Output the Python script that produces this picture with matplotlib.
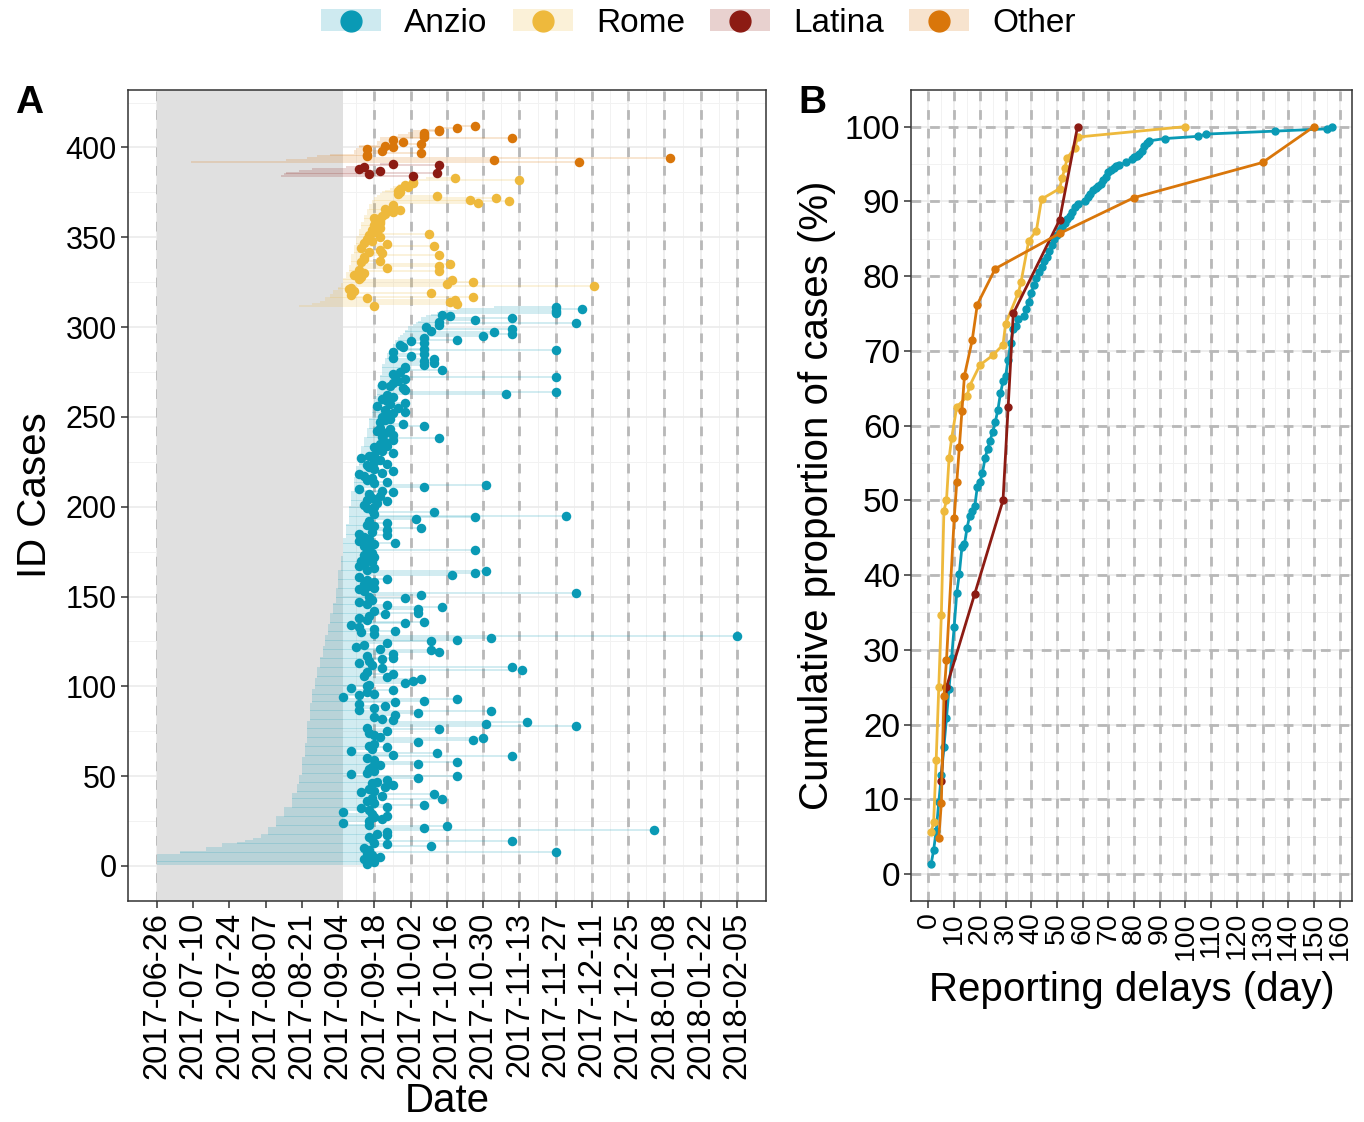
import numpy as np
import matplotlib
matplotlib.use("Agg")
import matplotlib.pyplot as plt
import matplotlib.dates as mdates
from matplotlib.patches import Patch
from matplotlib.lines import Line2D
from matplotlib.legend_handler import HandlerTuple

plt.rcParams['font.family'] = ['Liberation Sans', 'DejaVu Sans']

START = np.datetime64('2017-06-26')
END = np.datetime64('2018-02-05')
SHADE_END_DAY = 72  # grey period, days after START

regions = ['Anzio', 'Rome', 'Latina', 'Other']
colors = ['#0A9AB5', '#EEB93C', '#8C1B13', '#D9760A']

# ---------------- panel A data (days after 2017-06-26) ----------------
# onset curve: onset day and number of cases with that onset
anzio_onset_day = [0, 9, 19, 25, 31, 34, 37, 40, 43, 46, 49, 52, 54, 55, 56, 57, 58, 59,
                   60, 61, 62, 63, 64, 65, 66, 67, 68, 69, 70, 71, 72, 73, 74, 75, 76, 77,
                   78, 79, 80, 81, 82, 83, 84, 85, 86, 87, 88, 89, 90, 91, 92, 93, 94, 95,
                   96, 97, 99, 100, 101, 102, 104, 106, 108, 111, 116, 130]
anzio_onset_n = [6, 2, 2, 2, 1, 1, 1, 2, 4, 6, 5, 8, 5, 5, 10, 8, 12, 10,
                 8, 6, 6, 6, 6, 6, 6, 6, 6, 8, 10, 8, 10, 8, 10, 8, 8, 6,
                 6, 5, 5, 5, 6, 6, 6, 6, 6, 6, 3, 3, 3, 2, 2, 2, 1, 1,
                 2, 2, 1, 1, 1, 2, 1, 1, 1, 1, 1, 1]
anzio_notif_day = [
    81, 84, 82, 80, 86, 83, 81, 154, 82, 80,
    106, 89, 84, 137, 83, 82, 89, 85, 89, 192,
    103, 112, 82, 72, 82, 87, 84, 89, 83, 72,
    82, 79, 89, 103, 84, 81, 110, 83, 87, 107,
    79, 84, 82, 88, 91, 83, 85, 89, 101, 116,
    75, 81, 84, 82, 83, 86, 101, 116, 84, 81,
    137, 91, 108, 75, 83, 89, 82, 84, 101, 122,
    126, 86, 84, 82, 89, 109, 81, 162, 127, 143,
    91, 87, 84, 92, 101, 129, 78, 84, 88, 78,
    92, 103, 116, 72, 78, 84, 81, 91, 75, 81,
    82, 96, 99, 102, 89, 80, 91, 81, 141, 87,
    137, 83, 78, 82, 87, 91, 81, 91, 109, 106,
    86, 77, 80, 89, 106, 116, 129, 224, 84, 79,
    92, 84, 78, 75, 96, 103, 81, 78, 82, 88,
    101,
    84, 101, 110, 89, 81, 78, 83, 96, 82, 102,
    162, 80, 78, 84, 82, 80, 84, 81, 89, 78,
    114, 123, 127, 81, 84, 78, 80, 83, 79, 82,
    84, 80, 83, 81, 123, 82, 80, 84, 92, 78,
    82, 80, 89, 78, 83, 89, 102, 84, 81, 89,
    82, 100, 123, 158, 84, 107, 83, 81, 84, 80,
    85, 89, 81, 83, 86, 82, 91, 87, 78,
    103, 127, 84, 89, 81, 83, 80, 78, 87, 91,
    84, 82, 81, 89, 84, 86, 79, 82, 84, 91,
    87, 85, 84, 89, 86, 88, 91, 109, 87, 91,
    88, 85, 90, 86, 103, 95, 86, 88, 90, 87,
    89, 91, 96, 88, 93, 85, 90, 96, 89, 87,
    91, 89, 135, 154, 96, 95, 90, 87, 91, 93,
    96, 154, 92, 91, 94, 110, 96, 96, 103, 107,
    103, 107, 91, 98, 103, 91, 154, 103, 95, 94,
    103, 98, 116, 103, 126, 137, 130, 106, 137, 104,
    109, 162, 109, 123, 137, 113, 110, 154, 154, 164, 154]

rome_onset_day = [55, 60, 63, 65, 67, 68, 70, 71, 72, 73, 74, 75, 76, 77, 78, 79, 80,
                  81, 82, 83, 84, 85, 86, 87, 88, 90, 91, 93, 95, 97, 100, 104]
rome_onset_n = [1, 1, 1, 2, 2, 2, 2, 2, 3, 3, 4, 6, 5, 5, 4, 4, 4,
                3, 3, 2, 2, 1, 1, 1, 1, 1, 1, 1, 1, 1, 1, 1]
rome_notif_day = [
    84, 116, 113, 115, 81, 122, 75, 106, 76, 74,
    75, 169, 112, 122, 114, 78, 79, 76, 80, 109,
    78, 89, 109, 113, 79, 86, 80, 80, 109, 87,
    82, 86, 79, 107, 89, 80, 83, 81, 86, 82,
    105, 84, 83, 86, 85, 84, 86, 86, 85, 84,
    87, 88, 91, 94, 88, 91, 91, 124, 136, 121,
    131, 108, 93, 94, 93, 94, 97, 96, 99, 99,
    140, 115]

latina_onset_day = [48, 49, 50, 55, 60, 73, 80, 86]
latina_notif_day = [99, 82, 108, 86, 78, 80, 109, 91]

other_onset_day = [13, 50, 58, 62, 67, 76, 76, 77, 78, 78, 85, 85, 86, 86, 91, 93,
                   97, 99, 103, 109, 117]
other_notif_day = [163, 130, 198, 81, 81, 102, 87, 81, 91, 88, 102, 95, 91, 137, 103,
                   103, 103, 109, 109, 116, 123]

# ---------------- panel B data: delay (days) vs cumulative % ----------------
anzio_delay = [1, 2, 3, 4, 5, 6, 7, 8, 9, 10, 11, 12, 13, 14, 15, 16, 17, 18, 19, 20,
               21, 22, 23, 24, 25, 26, 27, 28, 29, 30, 31, 32, 33, 34, 35, 37, 38, 39,
               40, 41, 42, 43, 44, 45, 46, 47, 48, 49, 50, 51, 52, 53, 54, 55, 56, 57,
               58, 61, 62, 63, 64, 65, 66, 67, 68, 69, 70, 71, 72, 73, 74, 77, 79, 80,
               81, 82, 83, 84, 85, 86, 92, 105, 108, 135, 155, 157]
anzio_cum = [1.3, 3.2, 5.8, 9.6, 13.2, 17.0, 20.9, 24.8, 28.9, 33.1, 37.6, 40.2, 43.7,
             44.1, 46.3, 47.9, 48.6, 49.2, 51.8, 52.4, 53.7, 55.6, 56.9, 58.0, 59.2,
             60.5, 62.1, 64.3, 65.9, 66.6, 68.8, 71.1, 72.9, 73.3, 74.3, 74.6, 75.6,
             76.5, 77.8, 78.8, 79.7, 80.5, 81.2, 82.0, 82.6, 83.3, 84.1, 84.9, 85.5,
             86.2, 86.6, 87.1, 87.6, 88.1, 88.6, 89.2, 89.6, 90.0, 90.6, 91.0, 91.5,
             91.8, 92.1, 92.3, 92.8, 93.2, 93.9, 94.2, 94.5, 94.7, 94.8, 95.2, 95.6,
             95.9, 96.1, 96.4, 96.7, 97.4, 97.8, 98.1, 98.4, 98.7, 99.0, 99.4, 99.7, 100]
rome_delay = [1, 2, 3, 4, 5, 6, 7, 8, 9, 11, 15, 16, 20, 25, 29, 30, 35, 36, 39, 42,
              44, 51, 52, 53, 54, 57, 58, 100]
rome_cum = [5.6, 6.9, 15.3, 25.0, 34.7, 48.6, 50.0, 55.6, 58.3, 62.5, 63.9, 65.3, 68.1,
            69.4, 70.8, 73.6, 77.8, 79.2, 84.7, 86.1, 90.3, 91.7, 93.1, 94.4, 95.8,
            97.2, 98.6, 100]
latina_delay = [5, 7, 18, 29, 31, 33, 51, 58]
latina_cum = [12.5, 25, 37.5, 50, 62.5, 75, 87.5, 100]
other_delay = [4, 5, 6, 7, 10, 11, 12, 13, 14, 17, 19, 26, 51, 80, 130, 150]
other_cum = [4.8, 9.5, 23.8, 28.6, 47.6, 52.4, 57.1, 61.9, 66.7, 71.4, 76.2, 81.0,
             85.7, 90.5, 95.2, 100]


def to_num(days):
    return mdates.date2num(START + np.asarray(days).astype('timedelta64[D]'))


onsets = [np.repeat(anzio_onset_day, anzio_onset_n), np.repeat(rome_onset_day, rome_onset_n),
          np.array(latina_onset_day), np.array(other_onset_day)]
notifs = [np.array(anzio_notif_day), np.array(rome_notif_day),
          np.array(latina_notif_day), np.array(other_notif_day)]

fig = plt.figure(figsize=(13.64, 11.22), dpi=100)
axA = fig.add_axes([0.0938, 0.197, 0.4677, 0.7228])
axB = fig.add_axes([0.6679, 0.197, 0.3233, 0.7228])

grid_major = dict(color='#EBEBEB', lw=1.2)
grid_minor = dict(color='#F2F2F2', lw=0.7)
dash_style = dict(color='#B8B8B8', lw=2.0, ls=(0, (3.5, 3.2)))

# ---------------- panel A ----------------
x0, x1 = mdates.date2num(START), mdates.date2num(END)
pad = (x1 - x0) * 0.05
axA.set_xlim(x0 - pad, x1 + pad)
axA.set_ylim(-19.5, 432)

ticks = np.arange(START, END + np.timedelta64(1, 'D'), np.timedelta64(14, 'D'))
axA.set_xticks(mdates.date2num(ticks))
axA.set_xticklabels([str(t) for t in ticks], rotation=90)
axA.set_xticks(mdates.date2num(ticks[:-1] + np.timedelta64(7, 'D')), minor=True)
axA.set_yticks(np.arange(0, 401, 50))
axA.set_yticks(np.arange(25, 426, 50), minor=True)
axA.set_axisbelow(True)
axA.grid(True, which='major', **grid_major)
axA.grid(True, which='minor', **grid_minor)

for t in ticks:
    axA.axvline(mdates.date2num(t), zorder=0.8, **dash_style)
axA.axvspan(x0, to_num(SHADE_END_DAY), color='#E0E0E0', lw=0, zorder=1)

first = 1
for on, nt, c in zip(onsets, notifs, colors):
    ids = np.arange(first, first + len(nt))
    axA.hlines(ids, to_num(on), to_num(nt), color=c, alpha=0.2, lw=1.3, zorder=2)
    axA.scatter(to_num(nt), ids, s=47, color=c, lw=0, zorder=3)
    first += len(nt)

axA.set_xlabel('Date', fontsize=29, labelpad=2)
axA.set_ylabel('ID Cases', fontsize=29, labelpad=8)

# ---------------- panel B ----------------
delays = [anzio_delay, rome_delay, latina_delay, other_delay]
cums = [anzio_cum, rome_cum, latina_cum, other_cum]
axB.set_xlim(-6.8, 164.8)
axB.set_ylim(-3.6, 104.9)
axB.set_xticks(np.arange(0, 161, 10))
axB.set_xticklabels([str(v) for v in range(0, 161, 10)], rotation=90)
axB.set_xticks(np.arange(5, 160, 10), minor=True)
axB.set_yticks(np.arange(0, 101, 10))
axB.set_yticks(np.arange(5, 101, 10), minor=True)
axB.set_axisbelow(True)
axB.grid(True, which='major', **grid_major)
axB.grid(True, which='minor', **grid_minor)
for v in range(0, 161, 10):
    axB.axvline(v, zorder=0.8, **dash_style)
for v in range(0, 101, 10):
    axB.axhline(v, zorder=0.8, **dash_style)

for d, p, c in zip(delays, cums, colors):
    axB.plot(d, p, '-o', color=c, lw=2.0, ms=5, zorder=3)

axB.set_xlabel('Reporting delays (day)', fontsize=29, labelpad=8)
axB.set_ylabel('Cumulative proportion of cases (%)', fontsize=29, labelpad=6)

for ax in (axA, axB):
    for s in ax.spines.values():
        s.set_color('#333333')
        s.set_linewidth(1.1)
    ax.tick_params(which='major', length=5, width=1.1, color='#333333',
                   labelcolor='black', pad=3)
    ax.tick_params(which='minor', length=0)
axA.tick_params(axis='y', labelsize=22)
axA.tick_params(axis='x', labelsize=23.5)
axB.tick_params(axis='y', labelsize=24)
axB.tick_params(axis='x', labelsize=20.5)

fig.text(0.011, 0.908, 'A', fontsize=28, fontweight='bold', va='center')
fig.text(0.585, 0.908, 'B', fontsize=28, fontweight='bold', va='center')

handles = [(Patch(facecolor=c, alpha=0.2, edgecolor='none'),
            Line2D([], [], ls='none', marker='o', ms=15, color=c)) for c in colors]
fig.legend(handles, regions, loc='center', bbox_to_anchor=(0.512, 0.979), ncol=4,
           frameon=False, fontsize=24, handler_map={tuple: HandlerTuple(ndivide=1)},
           handlelength=1.8, handleheight=0.65, columnspacing=0.75, handletextpad=0.7)

fig.savefig('out.png', dpi=100)
